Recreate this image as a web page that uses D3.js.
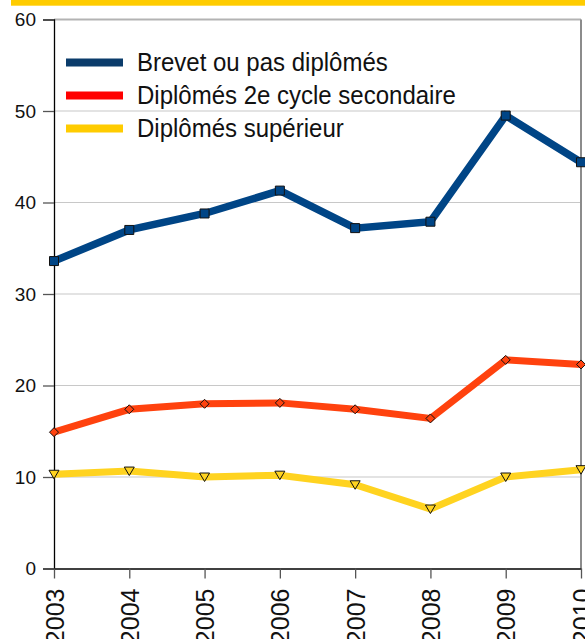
<!DOCTYPE html>
<html lang="fr">
<head>
<meta charset="utf-8">
<title>Diplômes</title>
<script src="https://d3js.org/d3.v7.min.js"></script>
<style>
body { margin: 0; background: #fff; }
text { font-family: "Liberation Sans", Arial, sans-serif; }
</style>
</head>
<body>
<div id="chart"></div>
<script>
// data
var years = ["2003", "2004", "2005", "2006", "2007", "2008", "2009", "2010"];
var brevet = [33.6, 37.0, 38.8, 41.3, 37.2, 37.9, 49.5, 44.4];
var second = [14.9, 17.4, 18.0, 18.1, 17.4, 16.4, 22.8, 22.3];
var superieur = [10.3, 10.65, 10.0, 10.2, 9.15, 6.5, 10.0, 10.8];
var yTicks = [0, 10, 20, 30, 40, 50, 60];
var seriesNames = ["Brevet ou pas diplômés", "Diplômés 2e cycle secondaire", "Diplômés supérieur"];

var W = 585, H = 639;
var margin = {top: 19.5, right: 4, bottom: 70.5, left: 54};
var width = W - margin.left - margin.right,
    height = H - margin.top - margin.bottom;

var svg = d3.select("#chart").append("svg")
  .attr("width", W).attr("height", H);

// yellow band on top
svg.append("rect").attr("x", 11).attr("y", 0).attr("width", W - 11).attr("height", 5.7)
  .attr("fill", "#ffcc00");

var g = svg.append("g").attr("transform", "translate(" + margin.left + "," + margin.top + ")");

var x = d3.scalePoint().domain(years).range([0, width]);
var y = d3.scaleLinear().domain([0, 60]).range([height, 0]);

// grid lines
g.selectAll(".grid").data(yTicks.filter(function(d){ return d > 0 && d < 60; }))
  .enter().append("line")
    .attr("x1", 0).attr("x2", width)
    .attr("y1", function(d){ return y(d); }).attr("y2", function(d){ return y(d); })
    .attr("stroke", "#c8c8c8").attr("stroke-width", 1.2);

// frame top + right
g.append("line").attr("x1", 0).attr("x2", width).attr("y1", y(60)).attr("y2", y(60))
  .attr("stroke", "#b3b3b3").attr("stroke-width", 2);
g.append("line").attr("x1", width).attr("x2", width).attr("y1", y(60)).attr("y2", y(0))
  .attr("stroke", "#8c8c8c").attr("stroke-width", 2);

// y axis
var yAxis = g.append("g")
  .call(d3.axisLeft(y).tickValues(yTicks).tickSize(11).tickPadding(7));
yAxis.select(".domain").attr("stroke", "#000").attr("stroke-width", 1.3);
yAxis.selectAll(".tick line").attr("stroke", "#555").attr("stroke-width", 1.3);
yAxis.selectAll("text").attr("font-size", 19).attr("fill", "#111")
  .attr("font-family", "Liberation Sans, Arial, sans-serif");

// x axis
var xAxis = g.append("g").attr("transform", "translate(0," + height + ")")
  .call(d3.axisBottom(x).tickSize(10).tickSizeOuter(0));
xAxis.select(".domain").attr("stroke", "#000").attr("stroke-width", 1.3);
xAxis.selectAll(".tick line").attr("stroke", "#555").attr("stroke-width", 1.3);
xAxis.selectAll("text")
  .attr("font-size", 25).attr("fill", "#111")
  .attr("font-family", "Liberation Sans, Arial, sans-serif")
  .attr("transform", "rotate(-90)")
  .attr("text-anchor", "end")
  .attr("x", -20).attr("y", 0).attr("dy", "0.36em");

// series
var series = [
  {name: seriesNames[0], values: brevet, color: "#004586", legend: "#0b3c6b", w: 7.5, symbol: "square"},
  {name: seriesNames[1], values: second, color: "#ff420e", legend: "#ff0000", w: 7, symbol: "diamond"},
  {name: seriesNames[2], values: superieur, color: "#ffd320", legend: "#ffcc00", w: 7, symbol: "tri"}
];

var line = d3.line()
  .x(function(d, i){ return x(years[i]); })
  .y(function(d){ return y(d); });

series.forEach(function(s) {
  g.append("path").datum(s.values)
    .attr("d", line).attr("fill", "none")
    .attr("stroke", s.color).attr("stroke-width", s.w)
    .attr("stroke-linejoin", "miter");
});

series.forEach(function(s) {
  var m = g.selectAll(null).data(s.values).enter().append("path")
    .attr("transform", function(d, i){ return "translate(" + x(years[i]) + "," + y(d) + ")"; })
    .attr("fill", s.color).attr("stroke", "#111").attr("stroke-width", 1);
  if (s.symbol === "diamond") m.attr("d", "M0,-4.5L4.5,0L0,4.5L-4.5,0Z");
  else if (s.symbol === "tri") m.attr("d", "M-5,-4L5,-4L0,4.5Z");
  else m.attr("d", "M-4.5,-4.5H4.5V4.5H-4.5Z");
});

// legend
var legend = svg.append("g");
series.forEach(function(s, i) {
  var ly = 62.5 + i * 33;
  legend.append("line").attr("x1", 66).attr("x2", 123).attr("y1", ly).attr("y2", ly)
    .attr("stroke", s.legend).attr("stroke-width", 8);
  legend.append("text").attr("x", 0).attr("y", 0).attr("dy", "0.35em")
    .attr("font-size", 25).attr("fill", "#111")
    .attr("transform", "translate(137," + ly + ") scale(0.96,1)")
    .text(s.name);
});
</script>
</body>
</html>
